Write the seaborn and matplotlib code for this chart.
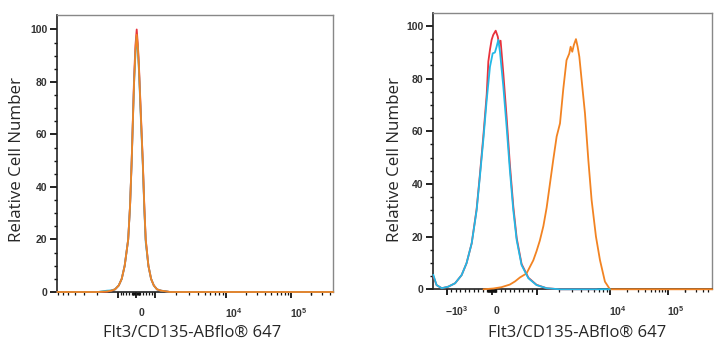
import numpy as np
import pandas as pd
import matplotlib
matplotlib.use("Agg")
import matplotlib.pyplot as plt
import seaborn as sns
from matplotlib.transforms import ScaledTranslation

sns.set_style("white")
plt.rcParams['font.family'] = ['Open Sans', 'DejaVu Sans']
plt.rcParams['mathtext.fontset'] = 'custom'
plt.rcParams['mathtext.rm'] = 'Liberation Sans:bold'
plt.rcParams['mathtext.it'] = 'Liberation Sans:bold'
plt.rcParams['mathtext.bf'] = 'Liberation Sans:bold'

# ---------------- data (x in display channel units 0..1024) ----------------
left_x = [0, 150, 184, 200, 214, 228, 239, 250, 263, 270, 276, 281, 285, 290, 294.6,
          299, 303, 310, 317, 323, 328, 338, 348, 358, 370, 385, 400, 418, 450, 1024]
left_red = [0, 0, 0.2, 0.5, 1, 2.5, 5, 10, 20, 33, 50, 68, 82, 94, 100,
            94, 86, 68, 50, 32, 20, 10, 5, 2.5, 1, 0.5, 0.3, 0, 0, 0]
left_cyan = [0, 0, 0.5, 0.6, 1, 2.5, 5, 10, 20, 33, 50, 67, 80, 91, 97,
             92, 84, 66, 49, 31, 19, 10, 5, 2.5, 1, 0.5, 0.3, 0, 0, 0]
left_orange = [0, 0, 0.2, 0.5, 1, 2.5, 5, 10, 20, 33, 50, 67, 80, 92, 98,
               93, 85, 67, 50, 32, 20, 10, 5, 2.5, 1, 0.5, 0.3, 0, 0, 0]

right_cyan_x = [0, 12, 31, 55, 80, 104, 122, 141, 159, 171, 183.5, 196, 208, 218, 226,
                232, 238.6, 244.7, 257, 269, 281, 293.6, 306, 324, 349, 379, 416, 465, 648]
right_cyan = [5.5, 1.6, 0.4, 1.0, 2.3, 5.4, 9.9, 17.5, 30, 42.8, 56.7, 71.9, 84.5, 89.6, 89.9,
              92, 94.7, 90.2, 77, 61.8, 45.3, 30, 18.7, 9.2, 4.2, 1.6, 0.4, 0, 0]

right_red_x = [0, 12, 31, 55, 80, 104, 122, 141, 159, 171, 183.5, 196, 202, 208, 214, 220,
               229, 236.5, 241, 247, 257, 269, 281, 293.6, 306, 324, 349, 379, 416, 465, 600]
right_red = [5.0, 1.6, 0.4, 1.0, 2.3, 5.4, 9.9, 17.5, 30.5, 43.5, 58, 74, 86.5, 91, 94.7, 96.6,
             98.2, 96, 93.4, 94.4, 82, 65.5, 47.5, 31.5, 19.5, 9.6, 4.4, 1.7, 0.4, 0, 0]

right_orange_x = [184, 220, 250, 281, 300, 318, 342, 355, 367, 379, 391, 404, 416, 428, 440,
                  452.7, 465, 477, 489, 499, 504, 510, 516, 523.6, 529.8, 536, 544.4, 556.7,
                  569, 581, 597, 611.7, 630, 648.4, 1024]
right_orange = [0, 0.3, 0.8, 1.8, 3, 4.5, 6, 8.6, 11, 14.5, 18.5, 24, 31, 40, 49,
                58, 63, 76, 87, 89.5, 92.1, 90.2, 92.8, 95, 92.1, 88.3, 79.5, 66.8,
                49.1, 33.9, 20, 11.1, 2.9, 0, 0]

# axis anchors: biexponential-like display (scaled value g -> channel)
left_g = [-3, -2, -1, -0.5, 0, 0.5, 1, 2, 3, 4]
left_c = [-303, -39, 225, 276, 292, 308, 362, 626, 867, 1108]
right_g = [-3, -2, -1, 0, 1, 2, 3, 4]
right_c = [-486, -218, 50, 215, 380.6, 648.5, 861.4, 1074]

left_labels = {0: "0", 1e4: "$10^4$", 1e5: "$10^5$"}
right_labels = {-1e3: "$-10^3$", 0: "0", 1e4: "$10^4$", 1e5: "$10^5$"}

y_ticks = [0, 20, 40, 60, 80, 100]
xlabel = "Flt3/CD135-ABflo\u00ae 647"
ylabel = "Relative Cell Number"

RED = "#e8323c"
CYAN = "#22b8e6"
ORANGE = "#f28322"


def make_pos(gs, cs):
    def pos(v):
        v = np.asarray(v, float)
        a = np.abs(v)
        g = np.where(a <= 1000, v / 1000.0,
                     np.sign(v) * (1 + np.log10(np.maximum(a, 1000) / 1000.0)))
        return np.interp(g, gs, cs)
    return pos


fig = plt.figure(figsize=(7.24, 3.5), dpi=100)
W, H = 724, 350


def px_axes(l, t, r, b):
    return fig.add_axes([l / W, 1 - b / H, (r - l) / W, (b - t) / H])


axL = px_axes(57.3, 15, 333.3, 292)
axR = px_axes(433.3, 13.3, 712.3, 289.3)


def draw(ax, series):
    for x, y, c in series:
        sns.lineplot(x=x, y=y, ax=ax, color=c, lw=1.3, clip_on=False, zorder=5,
                     estimator=None, sort=False)


draw(axL, [(left_x, left_red, RED), (left_x, left_cyan, CYAN), (left_x, left_orange, ORANGE)])
draw(axR, [(right_red_x, right_red, RED), (right_orange_x, right_orange, ORANGE),
           (right_cyan_x, right_cyan, CYAN)])


def style(ax, pos, labels, ytop, lab_off_y, fine):
    ax.set_xlim(0, 1024)
    ax.set_ylim(0, ytop)
    majors = [-1e4, -1e3, 0, 1e3, 1e4, 1e5]
    mp = pos(majors)
    keep = [(v, p) for v, p in zip(majors, mp) if 0 <= p <= 1024]
    ax.set_xticks([p for _, p in keep])
    ax.set_xticklabels([])
    minors = []
    for s in (1, -1):
        for m in range(1, 10):
            if fine:
                minors.append(s * m * 10)
            minors.append(s * m * 100)
        for d in (1000, 10000, 100000):
            for m in range(2, 10):
                minors.append(s * m * d)
    minors.append(2e5)
    mn = [p for p in pos(minors) if 0 <= p <= 1024]
    ax.set_xticks(mn, minor=True)
    ax.tick_params(axis='x', which='major', direction='out', length=4.2, width=1.3,
                   color='#111', bottom=True)
    ax.tick_params(axis='x', which='minor', direction='out', length=2.4, width=0.9,
                   color='#111', bottom=True)
    ax.set_yticks(y_ticks)
    ax.set_yticks(np.arange(0, 101, 5), minor=True)
    ax.tick_params(axis='y', which='major', direction='out', length=5, width=1.3,
                   color='#111', left=True, pad=2, labelsize=7.5, labelcolor='#333')
    ax.tick_params(axis='y', which='minor', direction='out', length=2.5, width=1.0,
                   color='#111', left=True)
    for lbl in ax.get_yticklabels():
        lbl.set_fontweight('bold')
        lbl.set_family('Liberation Sans')
    tr = ax.get_xaxis_transform()
    for v, txt in labels.items():
        p = float(pos([v])[0])
        dx = 5 if v == 0 else (10 if v < 0 else 8)
        ax.text(p, 0, txt, transform=tr + ScaledTranslation(dx / 100, -lab_off_y / 100,
                                                            fig.dpi_scale_trans),
                ha='center', va='center', fontsize=7.5, color='#333',
                family='Liberation Sans', fontweight='bold')
    for sp in ('left', 'bottom'):
        ax.spines[sp].set_color('#222')
        ax.spines[sp].set_linewidth(1.2)
    for sp in ('top', 'right'):
        ax.spines[sp].set_color('#888')
        ax.spines[sp].set_linewidth(1.0)
    ax.set_xlabel(xlabel, fontsize=12, color='#262626')
    ax.set_ylabel(ylabel, fontsize=12.2, color='#262626')
    ax.grid(False)


style(axL, make_pos(left_g, left_c), left_labels, 105.5, 21, False)
style(axR, make_pos(right_g, right_c), right_labels, 104.8, 22, True)

axL.yaxis.set_label_coords((17 - 57.3) / 276, (292 - 160) / 277)
axR.yaxis.set_label_coords((395 - 433.3) / 279, (289.3 - 160) / 276)
axL.xaxis.set_label_coords((191.7 - 57.3) / 276, (292 - 333) / 277)
axR.xaxis.set_label_coords((576.7 - 433.3) / 279, (289.3 - 333) / 276)
for ax in (axL, axR):
    ax.xaxis.label.set_va('center')
    ax.yaxis.label.set_va('center')

fig.savefig("out.png", dpi=100)
